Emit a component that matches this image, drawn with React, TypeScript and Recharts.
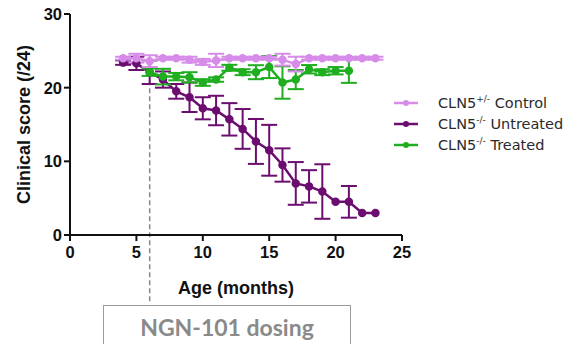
import React from 'react';
import { LineChart, Line, XAxis, YAxis, ErrorBar, ReferenceLine } from 'recharts';

const months = [4, 5, 6, 7, 8, 9, 10, 11, 12, 13, 14, 15, 16, 17, 18, 19, 20, 21, 22, 23];
const controlMean = [24, 24, 23.6, 24, 24, 23.8, 23.5, 23.7, 24, 24, 24, 24, 23.8, 23.2, 24, 24, 24, 24, 24, 24];
const controlErr = [0.2, 0.6, 0.8, 0.2, 0.2, 0.4, 0.4, 0.9, 0.2, 0.2, 0.2, 0.2, 0.8, 1.0, 0.2, 0.2, 0.2, 0.2, 0.2, 0.2];
const untreatedMean = [23.4, 23.3, 22.1, 21.1, 19.5, 18.7, 17.2, 16.9, 15.7, 14.4, 12.7, 11.5, 9.5, 7.0, 6.6, 5.9, 4.5, 4.5, 3.0, 3.0];
const untreatedErr = [0.3, 0.9, 1.6, 1.1, 1.0, 2.0, 1.5, 2.0, 2.2, 2.7, 3.05, 3.45, 2.26, 2.9, 2.2, 3.7, 0, 2.15, 0, 0];
const treatedMean = [null, null, 22.1, 21.5, 21.5, 21.4, 20.7, 21.1, 22.7, 22.1, 22.1, 22.8, 20.7, 21.1, 22.5, 22.1, 22.3, 22.3, null, null];
const treatedErr = [null, null, 0.5, 1.06, 0.5, 0.7, 0.45, 0.3, 0.4, 0.4, 0.95, 1.5, 2.2, 1.3, 0.57, 0.4, 0.5, 1.65, null, null];

const xTicks = [0, 5, 10, 15, 20, 25];
const yTicks = [0, 10, 20, 30];
const doseMonth = 6;

const data = months.map((m, i) => ({
  month: m,
  control: controlMean[i],
  controlErr: controlErr[i],
  untreated: untreatedMean[i],
  untreatedErr: untreatedErr[i],
  treated: treatedMean[i],
  treatedErr: treatedErr[i],
}));

const C_CONTROL = '#d68ce8';
const C_UNTREATED = '#6c0d70';
const C_TREATED = '#1fae1f';

const fontBase = { fontFamily: 'Liberation Sans, Arial, sans-serif', fontWeight: 700, fill: '#111' };
const tickStyle = { ...fontBase, fontSize: 16.5 };
const labelStyle = { ...fontBase, fontSize: 18 };

const legendItems = [
  { color: C_CONTROL, base: 'CLN5', sup: '+/-', rest: ' Control' },
  { color: C_UNTREATED, base: 'CLN5', sup: '-/-', rest: ' Untreated' },
  { color: C_TREATED, base: 'CLN5', sup: '-/-', rest: ' Treated' },
];

export default function App() {
  return (
    <div style={{ position: 'absolute', left: 0, top: 0, width: 583, height: 344, background: '#fff', overflow: 'hidden' }}>
      <LineChart width={583} height={344} data={data} margin={{ top: 14, right: 181, bottom: 69, left: 0 }}>
        <XAxis
          dataKey="month"
          type="number"
          domain={[0, 25]}
          ticks={xTicks}
          tick={tickStyle}
          tickSize={6}
          tickMargin={5}
          axisLine={{ stroke: '#111', strokeWidth: 2 }}
          tickLine={{ stroke: '#111', strokeWidth: 2 }}
          height={40}
          label={{ value: 'Age (months)', position: 'bottom', offset: 6, style: labelStyle }}
        />
        <YAxis
          type="number"
          domain={[0, 30]}
          ticks={yTicks}
          tick={tickStyle}
          tickSize={6}
          width={70}
          axisLine={{ stroke: '#111', strokeWidth: 2 }}
          tickLine={{ stroke: '#111', strokeWidth: 2 }}
          label={{ value: 'Clinical score (/24)', angle: -90, position: 'insideLeft', dx: 19, style: { ...labelStyle, textAnchor: 'middle' } }}
        />
        <ReferenceLine
          segment={[{ x: doseMonth, y: 21 }, { x: doseMonth, y: -9.4 }]}
          stroke="#888"
          strokeWidth={1.5}
          strokeDasharray="5 3"
          ifOverflow="visible"
        />
        <Line dataKey="untreated" stroke={C_UNTREATED} strokeWidth={2.5} dot={{ r: 3, fill: C_UNTREATED, stroke: C_UNTREATED }} isAnimationActive={false}>
          <ErrorBar dataKey="untreatedErr" width={8} strokeWidth={2} stroke={C_UNTREATED} direction="y" />
        </Line>
        <Line dataKey="treated" stroke={C_TREATED} strokeWidth={2.5} dot={{ r: 3, fill: C_TREATED, stroke: C_TREATED }} isAnimationActive={false} connectNulls={false}>
          <ErrorBar dataKey="treatedErr" width={8} strokeWidth={2} stroke={C_TREATED} direction="y" />
        </Line>
        <Line dataKey="control" stroke={C_CONTROL} strokeWidth={2.5} dot={{ r: 3, fill: C_CONTROL, stroke: C_CONTROL }} isAnimationActive={false}>
          <ErrorBar dataKey="controlErr" width={8} strokeWidth={2} stroke={C_CONTROL} direction="y" />
        </Line>
      </LineChart>
      <div style={{ position: 'absolute', left: 393, top: 92, fontFamily: 'DejaVu Sans, sans-serif', fontSize: 14.5, color: '#2a2a2a' }}>
        {legendItems.map((it, i) => (
          <div key={i} style={{ display: 'flex', alignItems: 'center', height: 21 }}>
            <svg width={26} height={10} style={{ marginRight: 19 }}>
              <line x1={1} y1={5} x2={25} y2={5} stroke={it.color} strokeWidth={2.5} />
              <circle cx={13} cy={5} r={3} fill={it.color} />
            </svg>
            <span>
              {it.base}
              <sup style={{ fontSize: 9 }}>{it.sup}</sup>
              {it.rest}
            </span>
          </div>
        ))}
      </div>
      <div
        style={{
          position: 'absolute',
          left: 103,
          top: 305,
          width: 248,
          height: 50,
          border: '1.5px solid #9a9a9a',
          boxSizing: 'border-box',
          fontFamily: 'Lato, sans-serif',
          fontWeight: 700,
          fontSize: 23,
          color: '#8a8a8a',
          textAlign: 'center',
          paddingTop: 7,
        }}
      >
        NGN-101 dosing
      </div>
    </div>
  );
}
